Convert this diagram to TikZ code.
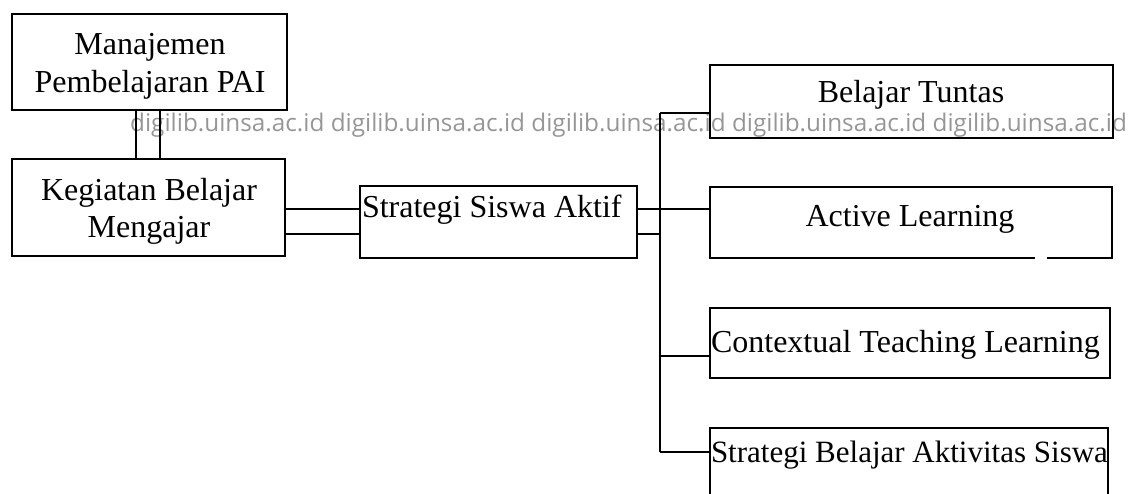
\documentclass[tikz,border=0pt]{standalone}
\usepackage{fontspec}
\setmainfont{Liberation Serif}
\newfontfamily\wmfont{Open Sans}
\definecolor{wmgray}{RGB}{150,150,150}
\begin{document}
\begin{tikzpicture}[x=1pt,y=-1pt,
  box/.style={draw=black,line width=1.8pt,inner sep=0pt,outer sep=0pt,rectangle},
  lbl/.style={inner sep=0pt,outer sep=0pt,anchor=base,font=\fontsize{32}{38}\selectfont},
  lblw/.style={lbl,anchor=base west},
  conn/.style={draw=black,line width=1.8pt},
  wm/.style={inner sep=0pt,anchor=base west,text=wmgray,font=\wmfont\fontsize{24.3}{28}\selectfont}]
\useasboundingbox (0,0) rectangle (1134,494);
\begin{scope}
\clip (0,0) rectangle (1134,494);
% watermark
\node[wm] (wmark) at (130,132) {digilib.uinsa.ac.id digilib.uinsa.ac.id digilib.uinsa.ac.id digilib.uinsa.ac.id digilib.uinsa.ac.id};
% boxes
\node[box,minimum width=275pt,minimum height=96pt] (man) at (149.5,62) {};
\node[box,minimum width=273pt,minimum height=97pt] (keg) at (148.5,207.5) {};
\node[box,minimum width=277pt,minimum height=72pt] (ssa) at (498.5,222) {};
\node[box,minimum width=403pt,minimum height=73pt] (bt) at (911.5,101.5) {};
\node[box,minimum width=402pt,minimum height=71pt] (al) at (911,222.5) {};
\node[box,minimum width=400pt,minimum height=70pt] (ctl) at (910,343) {};
\node[box,minimum width=398pt,minimum height=90pt] (sba) at (909,473) {};
% texts
\node[lbl] (t1a) at (150,55) {Manajemen};
\node[lbl] (t1b) at (150,93) {Pembelajaran PAI};
\node[lbl] (t2a) at (149,201) {Kegiatan Belajar};
\node[lbl] (t2b) at (149,238) {Mengajar};
\node[lblw] (t3) at (362,218) {Strategi Siswa Aktif};
\node[lbl] (t4) at (911,103) {Belajar Tuntas};
\node[lbl] (t5) at (910,227) {Active Learning};
\node[lblw] (t6) at (711,352) {Contextual Teaching Learning};
\node[lblw,font=\fontsize{31}{38}\selectfont] (t7) at (711,462) {Strategi Belajar Aktivitas Siswa};
% coordinates
\coordinate (ya) at (0,209);
\coordinate (yb) at (0,234);
\coordinate (bustop) at (660,113);
\coordinate (busmid) at (660,234);
\coordinate (busctl) at (660,356);
\coordinate (busbot) at (660,452);
% connectors
\draw[conn] ([xshift=124pt]man.south west) -- ([xshift=124pt]keg.north west);
\draw[conn] ([xshift=148pt]man.south west) -- ([xshift=148pt]keg.north west);
\draw[conn] (keg.east |- ya) -- (ssa.west |- ya);
\draw[conn] (keg.east |- yb) -- (ssa.west |- yb);
\draw[conn] (ssa.east |- ya) -- (al.west |- ya);
\draw[conn] (ssa.east |- yb) -- (busmid);
\draw[conn] (bustop) -- (busbot);
\draw[conn] (bustop) -- (bt.west |- bustop);
\draw[conn] (busctl) -- (ctl.west |- busctl);
\draw[conn] (busbot) -- (sba.west |- busbot);
% small gap in the bottom border of Active Learning
\draw[white,line width=2.8pt] ([xshift=325pt]al.south west) -- ([xshift=337pt]al.south west);
\end{scope}
\end{tikzpicture}
\end{document}
